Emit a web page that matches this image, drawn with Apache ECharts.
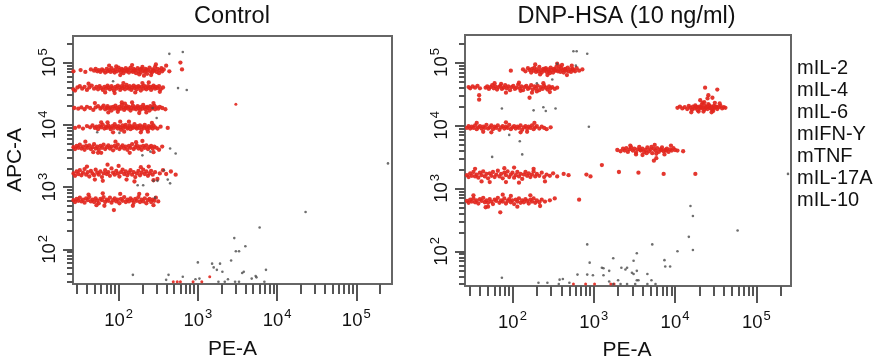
<!DOCTYPE html>
<html><head><meta charset="utf-8">
<script src="https://cdn.jsdelivr.net/npm/echarts@6/dist/echarts.min.js"></script>
<style>html,body{margin:0;padding:0;background:#fff}#c{width:880px;height:363px}</style>
</head><body><div id="c"></div>
<script>
// All point values are log10 of intensity: flat lists x0,y0,x1,y1,... (x = log10 PE-A, y = log10 APC-A)
const panelTitles = ['Control', 'DNP-HSA (10 ng/ml)'];
const cytokines = ['mIL-2', 'mIL-4', 'mIL-6', 'mIFN-Y', 'mTNF', 'mIL-17A', 'mIL-10'];
const decadeTicks = [2, 3, 4, 5];
const xTitle = 'PE-A';
const yTitle = 'APC-A';

// ---- Control ----
const ctrlIL2 = [1.43,4.86, 1.52,4.88, 1.58,4.85, 1.65,4.89, 1.69,4.87, 1.71,4.90, 1.73,4.86, 1.75,4.88, 1.77,4.85, 1.79,4.89, 1.81,4.87, 1.83,4.84, 1.85,4.90, 1.86,4.86, 1.88,4.88, 1.90,4.85, 1.91,4.91, 1.93,4.87, 1.95,4.84, 1.96,4.89, 1.98,4.86, 2.00,4.92, 2.01,4.88, 2.03,4.85, 2.04,4.90, 2.05,4.88, 2.06,4.83, 2.07,4.87, 2.09,4.91, 2.10,4.86, 2.11,4.88, 2.12,4.89, 2.13,4.84, 2.15,4.92, 2.16,4.87, 2.18,4.85, 2.19,4.90, 2.20,4.87, 2.21,4.88, 2.22,4.83, 2.24,4.91, 2.25,4.86, 2.27,4.89, 2.28,4.84, 2.29,4.90, 2.30,4.93, 2.31,4.87, 2.33,4.85, 2.34,4.90, 2.35,4.88, 2.36,4.82, 2.37,4.88, 2.39,4.92, 2.40,4.86, 2.42,4.84, 2.43,4.89, 2.44,4.87, 2.45,4.87, 2.46,4.93, 2.48,4.85, 2.49,4.90, 2.51,4.83, 2.52,4.88, 2.54,4.91, 2.55,4.86, 2.57,4.89, 2.60,4.95, 2.64,4.86, 2.80,4.89, 2.78,5.00, 1.88,4.95, 2.02,4.80, 2.17,4.96, 2.32,4.79, 2.47,4.97, 2.26,4.81, 1.97,4.94, 2.41,4.80];
const ctrlIL4 = [1.43,4.57, 1.45,4.55, 1.48,4.60, 1.51,4.62, 1.54,4.58, 1.57,4.61, 1.60,4.56, 1.63,4.60, 1.66,4.63, 1.69,4.58, 1.72,4.61, 1.74,4.57, 1.76,4.62, 1.78,4.59, 1.80,4.56, 1.82,4.61, 1.84,4.58, 1.86,4.63, 1.87,4.60, 1.89,4.57, 1.91,4.62, 1.92,4.59, 1.94,4.55, 1.96,4.61, 1.97,4.58, 1.99,4.63, 2.01,4.60, 2.02,4.56, 2.04,4.62, 2.05,4.59, 2.07,4.61, 2.08,4.57, 2.10,4.64, 2.11,4.60, 2.13,4.58, 2.14,4.62, 2.16,4.56, 2.17,4.60, 2.19,4.63, 2.20,4.59, 2.22,4.61, 2.23,4.57, 2.25,4.62, 2.26,4.60, 2.28,4.55, 2.29,4.61, 2.31,4.58, 2.32,4.63, 2.34,4.60, 2.35,4.57, 2.37,4.62, 2.38,4.59, 2.40,4.61, 2.41,4.56, 2.43,4.60, 2.44,4.63, 2.46,4.58, 2.47,4.61, 2.49,4.59, 2.51,4.62, 2.53,4.57, 2.56,4.60, 1.62,4.66, 1.83,4.52, 2.06,4.67, 2.21,4.52, 2.38,4.68, 2.52,4.53, 1.95,4.51, 2.30,4.67];
const ctrlIL6 = [1.44,4.27, 1.49,4.26, 1.53,4.28, 1.57,4.25, 1.60,4.29, 1.64,4.27, 1.68,4.24, 1.71,4.28, 1.74,4.30, 1.77,4.26, 1.79,4.28, 1.81,4.31, 1.83,4.25, 1.85,4.27, 1.86,4.30, 1.88,4.26, 1.90,4.28, 1.91,4.23, 1.93,4.29, 1.95,4.26, 1.96,4.31, 1.98,4.27, 2.00,4.25, 2.01,4.29, 2.03,4.26, 2.04,4.32, 2.06,4.28, 2.07,4.24, 2.09,4.27, 2.10,4.30, 2.12,4.26, 2.13,4.29, 2.15,4.23, 2.16,4.27, 2.18,4.31, 2.19,4.26, 2.21,4.28, 2.22,4.25, 2.24,4.30, 2.25,4.27, 2.27,4.24, 2.28,4.29, 2.30,4.26, 2.31,4.32, 2.33,4.28, 2.34,4.25, 2.36,4.29, 2.37,4.27, 2.39,4.23, 2.40,4.30, 2.42,4.26, 2.43,4.28, 2.45,4.31, 2.46,4.25, 2.48,4.28, 2.50,4.26, 2.52,4.29, 2.55,4.27, 2.59,4.25, 2.04,4.36, 1.70,4.35, 1.87,4.20, 2.08,4.34, 2.26,4.19, 2.44,4.35, 2.35,4.20, 1.99,4.21, 2.17,4.36];
const ctrlIFN = [1.45,3.95, 1.50,3.97, 1.55,3.94, 1.60,3.98, 1.64,3.96, 1.67,3.99, 1.70,3.95, 1.72,3.97, 1.74,3.93, 1.76,3.98, 1.78,3.96, 1.80,4.00, 1.82,3.94, 1.84,3.97, 1.85,3.95, 1.87,3.99, 1.89,3.96, 1.90,3.93, 1.92,3.98, 1.94,3.95, 1.95,4.01, 1.97,3.97, 1.99,3.94, 2.00,3.98, 2.02,3.96, 2.03,3.92, 2.05,3.99, 2.06,3.95, 2.08,3.97, 2.09,4.00, 2.11,3.94, 2.12,3.96, 2.14,3.99, 2.15,3.93, 2.17,3.97, 2.18,3.95, 2.20,4.01, 2.21,3.96, 2.23,3.94, 2.24,3.98, 2.26,3.95, 2.27,3.99, 2.29,3.92, 2.30,3.97, 2.32,3.95, 2.33,4.00, 2.35,3.96, 2.36,3.93, 2.38,3.98, 2.39,3.95, 2.41,3.97, 2.43,3.94, 2.44,3.99, 2.46,3.96, 2.49,3.94, 2.53,3.97, 2.62,3.95, 2.02,4.05, 1.78,4.04, 1.93,3.88, 2.13,4.05, 2.28,3.88, 2.42,4.03, 2.07,3.89, 1.86,4.04, 2.37,3.89];
const ctrlTNF = [1.43,3.64, 1.45,3.61, 1.47,3.66, 1.49,3.63, 1.51,3.68, 1.53,3.62, 1.55,3.65, 1.57,3.60, 1.59,3.66, 1.61,3.63, 1.63,3.67, 1.65,3.61, 1.67,3.64, 1.69,3.69, 1.71,3.62, 1.73,3.65, 1.75,3.60, 1.77,3.66, 1.79,3.63, 1.81,3.68, 1.83,3.61, 1.85,3.64, 1.87,3.67, 1.89,3.62, 1.91,3.65, 1.93,3.59, 1.95,3.66, 1.97,3.63, 1.99,3.68, 2.01,3.61, 2.03,3.64, 2.05,3.67, 2.07,3.62, 2.09,3.65, 2.11,3.60, 2.13,3.66, 2.15,3.63, 2.17,3.69, 2.19,3.61, 2.21,3.64, 2.23,3.67, 2.25,3.62, 2.27,3.65, 2.29,3.60, 2.31,3.66, 2.33,3.63, 2.35,3.67, 2.37,3.61, 2.39,3.64, 2.41,3.66, 2.43,3.62, 2.45,3.65, 2.48,3.63, 2.51,3.60, 2.55,3.65, 1.74,3.55, 1.58,3.73, 1.78,3.55, 1.96,3.73, 2.14,3.55, 2.30,3.74, 2.44,3.56, 1.68,3.56, 2.22,3.72];
const ctrlIL17A = [1.43,3.22, 1.45,3.18, 1.47,3.25, 1.49,3.21, 1.51,3.27, 1.53,3.19, 1.55,3.23, 1.57,3.29, 1.59,3.20, 1.61,3.24, 1.63,3.17, 1.65,3.26, 1.67,3.22, 1.69,3.19, 1.71,3.28, 1.73,3.23, 1.75,3.20, 1.77,3.25, 1.79,3.16, 1.81,3.22, 1.83,3.27, 1.85,3.21, 1.87,3.24, 1.89,3.18, 1.91,3.30, 1.93,3.23, 1.95,3.20, 1.97,3.26, 1.99,3.22, 2.01,3.17, 2.03,3.24, 2.05,3.28, 2.07,3.21, 2.09,3.25, 2.11,3.19, 2.13,3.23, 2.15,3.27, 2.17,3.20, 2.19,3.24, 2.21,3.16, 2.23,3.22, 2.25,3.26, 2.27,3.19, 2.29,3.23, 2.31,3.28, 2.33,3.21, 2.35,3.25, 2.37,3.18, 2.39,3.22, 2.41,3.26, 2.43,3.20, 2.46,3.24, 2.49,3.13, 2.52,3.22, 2.56,3.27, 2.60,3.21, 2.66,3.25, 2.72,3.20, 1.86,3.36, 2.10,3.12, 1.60,3.33, 1.80,3.10, 2.00,3.34, 2.20,3.09, 2.38,3.33, 1.70,3.12, 2.28,3.32, 2.44,3.11];
const ctrlIL10 = [1.43,2.79, 1.45,2.76, 1.47,2.81, 1.49,2.78, 1.51,2.83, 1.53,2.77, 1.55,2.80, 1.57,2.75, 1.59,2.82, 1.61,2.79, 1.63,2.84, 1.65,2.77, 1.67,2.80, 1.69,2.76, 1.71,2.82, 1.73,2.78, 1.75,2.74, 1.77,2.81, 1.79,2.79, 1.81,2.84, 1.83,2.76, 1.85,2.80, 1.87,2.78, 1.89,2.83, 1.91,2.75, 1.93,2.79, 1.95,2.82, 1.97,2.77, 1.99,2.80, 2.01,2.74, 2.03,2.81, 2.05,2.78, 2.07,2.84, 2.09,2.76, 2.11,2.80, 2.13,2.77, 2.15,2.82, 2.17,2.79, 2.19,2.75, 2.21,2.81, 2.23,2.78, 2.25,2.84, 2.27,2.76, 2.29,2.80, 2.31,2.77, 2.33,2.82, 2.35,2.74, 2.37,2.79, 2.39,2.81, 2.41,2.76, 2.43,2.80, 2.45,2.78, 2.47,2.83, 2.50,2.77, 1.94,2.63, 1.80,2.90, 1.62,2.88, 1.82,2.70, 2.02,2.89, 2.18,2.70, 2.36,2.88, 1.72,2.71, 2.26,2.89, 2.44,2.71];
const ctrlRedOther = [3.48,4.33, 2.69,1.48, 2.74,1.48, 2.78,1.48, 2.94,1.48, 3.05,1.48, 3.15,1.56];
const ctrlGray = [2.64,5.14, 2.81,5.17, 2.75,4.59, 2.86,4.56, 2.48,4.11, 2.43,4.27, 1.93,4.70, 1.73,3.88, 2.01,3.87, 2.65,3.62, 2.72,3.54, 2.30,3.51, 2.40,3.57, 2.57,3.27, 2.44,3.10, 2.49,3.10, 2.62,3.12, 2.65,3.06, 2.24,3.03, 2.31,3.03, 2.46,2.83, 5.40,3.38, 4.36,2.60, 3.78,2.35, 3.46,2.18, 3.48,1.97, 3.52,1.97, 3.60,2.05, 3.00,1.79, 3.18,1.77, 3.20,1.71, 3.28,1.77, 3.31,1.64, 3.24,1.67, 3.42,1.82, 3.56,1.62, 3.58,1.64, 3.86,1.67, 3.68,1.53, 3.73,1.57, 3.74,1.55, 2.18,1.59, 2.63,1.59, 2.60,1.51, 2.81,1.56, 2.97,1.52, 3.02,1.53, 3.26,1.48, 3.38,1.52, 3.47,1.48, 3.52,1.48, 3.84,1.48, 3.34,1.48];

// ---- DNP-HSA (10 ng/ml) ----
const dnpIL2 = [1.98,4.87, 2.13,4.89, 2.16,4.86, 2.19,4.91, 2.21,4.88, 2.23,4.84, 2.24,4.90, 2.26,4.87, 2.27,4.92, 2.29,4.85, 2.30,4.89, 2.32,4.86, 2.33,4.93, 2.35,4.88, 2.36,4.84, 2.38,4.90, 2.39,4.87, 2.41,4.91, 2.42,4.85, 2.44,4.89, 2.45,4.86, 2.47,4.92, 2.48,4.88, 2.50,4.84, 2.51,4.90, 2.53,4.87, 2.54,4.93, 2.56,4.86, 2.57,4.89, 2.59,4.85, 2.60,4.91, 2.62,4.88, 2.63,4.84, 2.65,4.90, 2.66,4.87, 2.68,4.92, 2.69,4.86, 2.71,4.89, 2.72,4.85, 2.74,4.90, 2.75,4.88, 2.77,4.86, 2.79,4.91, 2.82,4.87, 2.86,4.89, 2.46,4.83, 2.58,4.94, 2.40,4.89, 2.52,4.88, 2.64,4.89, 2.28,4.97, 2.43,4.80, 2.55,4.98, 2.67,4.80, 2.73,4.95, 2.34,4.81, 2.61,4.96];
const dnpIL4 = [1.46,4.61, 1.48,4.59, 1.51,4.62, 1.54,4.60, 1.57,4.63, 1.60,4.59, 1.67,4.60, 1.69,4.62, 1.71,4.58, 1.73,4.61, 1.75,4.64, 1.77,4.59, 1.79,4.62, 1.81,4.57, 1.83,4.61, 1.85,4.63, 1.87,4.58, 1.89,4.60, 1.91,4.64, 1.93,4.59, 1.95,4.62, 1.97,4.56, 1.99,4.61, 2.01,4.63, 2.03,4.58, 2.05,4.60, 2.07,4.65, 2.09,4.59, 2.11,4.62, 2.13,4.56, 2.15,4.61, 2.17,4.63, 2.19,4.58, 2.21,4.60, 2.23,4.64, 2.25,4.57, 2.27,4.62, 2.29,4.59, 2.31,4.63, 2.33,4.56, 2.35,4.61, 2.37,4.58, 2.39,4.63, 2.41,4.60, 2.43,4.57, 2.45,4.62, 2.47,4.59, 2.49,4.61, 2.52,4.58, 2.55,4.60, 2.21,4.44, 1.59,4.48, 1.59,4.41, 2.10,4.55, 2.30,4.54, 1.78,4.67, 1.92,4.52, 2.08,4.68, 2.24,4.52, 2.38,4.67, 2.46,4.53, 1.86,4.66];
const dnpIL6 = [4.03,4.28, 4.06,4.30, 4.09,4.27, 4.12,4.29, 4.15,4.26, 4.17,4.31, 4.19,4.28, 4.21,4.25, 4.22,4.30, 4.24,4.27, 4.25,4.32, 4.27,4.29, 4.28,4.24, 4.30,4.30, 4.31,4.27, 4.33,4.33, 4.34,4.28, 4.36,4.25, 4.37,4.31, 4.39,4.29, 4.40,4.26, 4.42,4.32, 4.43,4.28, 4.45,4.30, 4.46,4.25, 4.48,4.31, 4.49,4.28, 4.51,4.30, 4.52,4.26, 4.54,4.29, 4.56,4.31, 4.58,4.27, 4.60,4.29, 4.62,4.28, 4.35,4.22, 4.41,4.34, 4.47,4.23, 4.32,4.29, 4.38,4.28, 4.44,4.27, 4.50,4.29, 4.26,4.29, 4.37,4.60, 4.52,4.57, 4.41,4.48, 4.40,4.43, 4.31,4.40, 4.46,4.44, 4.36,4.37, 4.20,4.21, 4.34,4.36, 4.45,4.21, 4.55,4.35, 4.29,4.22, 4.49,4.36];
const dnpIFN = [1.44,3.96, 1.46,3.99, 1.48,3.95, 1.50,3.98, 1.52,3.96, 1.54,4.00, 1.56,3.94, 1.58,3.97, 1.60,3.99, 1.62,3.95, 1.64,3.98, 1.66,3.96, 1.68,4.01, 1.70,3.95, 1.72,3.97, 1.74,4.00, 1.76,3.94, 1.78,3.98, 1.80,3.96, 1.82,4.00, 1.84,3.93, 1.86,3.97, 1.88,3.99, 1.90,3.95, 1.92,3.98, 1.94,3.96, 1.96,4.01, 1.98,3.94, 2.00,3.97, 2.02,3.99, 2.04,3.95, 2.06,3.98, 2.08,3.96, 2.10,4.00, 2.12,3.93, 2.14,3.97, 2.16,3.99, 2.18,3.95, 2.20,3.98, 2.22,3.96, 2.24,4.00, 2.26,3.94, 2.28,3.97, 2.30,3.99, 2.33,3.95, 2.36,3.98, 2.39,3.96, 2.42,3.94, 2.47,3.97, 1.56,4.04, 1.74,3.89, 1.92,4.05, 2.10,3.89, 2.27,4.04, 2.18,3.90, 1.64,3.90];
const dnpTNF = [3.29,3.61, 3.33,3.59, 3.36,3.63, 3.38,3.60, 3.40,3.64, 3.42,3.58, 3.44,3.62, 3.46,3.65, 3.48,3.60, 3.50,3.63, 3.52,3.57, 3.54,3.62, 3.56,3.66, 3.58,3.60, 3.60,3.63, 3.62,3.58, 3.64,3.61, 3.66,3.65, 3.68,3.59, 3.70,3.62, 3.72,3.56, 3.74,3.63, 3.76,3.60, 3.78,3.64, 3.80,3.58, 3.82,3.62, 3.84,3.65, 3.86,3.59, 3.88,3.61, 3.90,3.63, 3.92,3.58, 3.94,3.62, 3.96,3.60, 3.98,3.64, 4.00,3.61, 4.03,3.60, 3.65,3.56, 3.71,3.66, 3.77,3.55, 3.83,3.61, 3.57,3.61, 3.89,3.60, 4.10,3.59, 3.74,3.44, 3.77,3.48, 3.45,3.68, 3.60,3.53, 3.75,3.69, 3.87,3.54, 3.95,3.68, 3.52,3.54];
const dnpIL17A = [1.44,3.21, 1.46,3.18, 1.48,3.24, 1.50,3.20, 1.52,3.26, 1.54,3.19, 1.56,3.22, 1.58,3.17, 1.60,3.25, 1.62,3.21, 1.64,3.27, 1.66,3.19, 1.68,3.23, 1.70,3.16, 1.72,3.24, 1.74,3.20, 1.76,3.26, 1.78,3.18, 1.80,3.22, 1.82,3.28, 1.84,3.19, 1.86,3.23, 1.88,3.16, 1.90,3.25, 1.92,3.21, 1.94,3.27, 1.96,3.18, 1.98,3.22, 2.00,3.25, 2.02,3.17, 2.04,3.21, 2.06,3.26, 2.08,3.19, 2.10,3.23, 2.12,3.15, 2.14,3.22, 2.16,3.26, 2.18,3.20, 2.20,3.24, 2.22,3.18, 2.24,3.22, 2.26,3.27, 2.28,3.19, 2.30,3.23, 2.33,3.20, 2.36,3.25, 2.39,3.18, 2.42,3.22, 2.46,3.20, 2.50,3.24, 2.55,3.19, 2.63,3.23, 2.69,3.21, 2.91,3.22, 2.96,3.19, 3.10,3.37, 3.31,3.26, 3.55,3.25, 3.86,3.23, 4.25,3.23, 1.92,3.10, 2.02,3.33, 1.54,3.31, 1.72,3.10, 1.90,3.32, 2.08,3.09, 2.26,3.31, 2.40,3.11, 1.62,3.11];
const dnpIL10 = [1.44,2.80, 1.46,2.77, 1.48,2.82, 1.50,2.79, 1.52,2.84, 1.54,2.78, 1.56,2.81, 1.58,2.76, 1.60,2.83, 1.62,2.80, 1.64,2.85, 1.66,2.78, 1.68,2.81, 1.70,2.77, 1.72,2.83, 1.74,2.79, 1.76,2.75, 1.78,2.82, 1.80,2.80, 1.82,2.85, 1.84,2.77, 1.86,2.81, 1.88,2.79, 1.90,2.84, 1.92,2.76, 1.94,2.80, 1.96,2.83, 1.98,2.78, 2.00,2.81, 2.02,2.75, 2.04,2.82, 2.06,2.79, 2.08,2.84, 2.10,2.77, 2.12,2.81, 2.14,2.78, 2.16,2.83, 2.18,2.80, 2.20,2.76, 2.22,2.82, 2.24,2.79, 2.26,2.84, 2.28,2.77, 2.30,2.81, 2.33,2.78, 2.36,2.82, 2.40,2.79, 2.46,2.81, 2.52,2.84, 2.82,2.82, 1.67,2.70, 1.85,2.62, 1.52,2.89, 1.70,2.71, 1.88,2.90, 2.06,2.71, 2.22,2.89, 2.34,2.72, 1.98,2.88];
const dnpRedOther = [2.75,1.48, 2.90,1.48, 3.01,1.48, 3.21,1.48, 3.25,1.48];
const dnpGray = [2.75,5.18, 2.79,5.18, 2.92,5.14, 2.55,4.98, 2.78,4.95, 2.30,4.67, 2.49,4.73, 1.87,4.27, 2.26,4.24, 2.38,4.29, 2.41,4.23, 2.53,4.27, 2.94,3.98, 1.96,3.85, 2.09,3.75, 2.12,3.54, 1.75,3.50, 5.39,3.23, 4.19,2.72, 4.22,2.56, 4.17,2.23, 4.22,2.02, 4.77,2.33, 4.03,2.00, 3.72,2.11, 3.53,1.97, 2.92,2.11, 2.95,1.82, 3.24,1.89, 3.49,1.85, 3.87,1.86, 3.88,1.76, 3.94,1.76, 3.10,1.74, 3.12,1.73, 3.19,1.69, 3.34,1.74, 3.39,1.71, 3.41,1.74, 3.53,1.69, 3.47,1.66, 3.49,1.64, 3.66,1.64, 2.80,1.63, 2.92,1.63, 2.99,1.62, 3.12,1.62, 3.30,1.54, 3.19,1.52, 3.53,1.54, 3.55,1.54, 3.71,1.54, 1.87,1.58, 2.32,1.50, 2.43,1.50, 2.58,1.55, 2.62,1.56, 2.70,1.50, 2.57,1.48, 3.24,1.48, 3.33,1.48, 3.41,1.48, 3.51,1.48, 3.66,1.48, 3.76,1.48];

const ctrlBands = [ctrlIL2, ctrlIL4, ctrlIL6, ctrlIFN, ctrlTNF, ctrlIL17A, ctrlIL10];
const dnpBands = [dnpIL2, dnpIL4, dnpIL6, dnpIFN, dnpTNF, dnpIL17A, dnpIL10];

// ---------- build ----------
const FONT = '"Liberation Sans", Arial, Helvetica, sans-serif';
const RED = '#e2261d', GRAY = '#4a4a4a', AX = '#555';
function pairs(flat) { const out = []; for (let i = 0; i + 1 < flat.length; i += 2) out.push([flat[i], flat[i + 1]]); return out; }
function concatPairs(list) { return list.reduce((a, f) => a.concat(pairs(f)), []); }

const grids = [
  { left: 73, top: 36, width: 319, height: 248 },
  { left: 465, top: 35, width: 326, height: 251 }
];
const ranges = [
  { x: [1.424, 5.451], y: [1.443, 5.427] },
  { x: [1.416, 5.427], y: [1.449, 5.437] }
];
function minorTicks(r) {
  const t = [];
  for (let d = 1; d <= 5; d++) for (let m = 2; m <= 9; m++) {
    const v = d + Math.log10(m);
    if (v >= r[0] && v <= r[1]) t.push(v);
  }
  return t;
}
const rich = {
  b: { fontSize: 18.5, fontFamily: FONT, color: '#111', lineHeight: 22, verticalAlign: 'bottom' },
  s: { fontSize: 13, fontFamily: FONT, color: '#111', lineHeight: 22, verticalAlign: 'top', padding: [0, 0, 0, 1] }
};
const fmt = v => '{b|10}{s|' + Math.round(v) + '}';

const xAxes = [], yAxes = [];
grids.forEach((g, i) => {
  const r = ranges[i];
  xAxes.push({ type: 'value', gridIndex: i, position: 'bottom', min: r.x[0], max: r.x[1], axisLine: { show: false }, splitLine: { show: false },
    axisTick: { show: true, customValues: decadeTicks, length: 17, lineStyle: { color: AX, width: 2 } },
    axisLabel: { show: true, customValues: decadeTicks, margin: 24, formatter: fmt, rich } });
  xAxes.push({ type: 'value', gridIndex: i, position: 'bottom', offset: 0, min: r.x[0], max: r.x[1], axisLine: { show: false }, splitLine: { show: false },
    axisTick: { show: true, customValues: minorTicks(r.x), length: 10, lineStyle: { color: AX, width: 2 } },
    axisLabel: { show: false } });
  yAxes.push({ type: 'value', gridIndex: i, position: 'left', min: r.y[0], max: r.y[1], axisLine: { show: false }, splitLine: { show: false },
    axisTick: { show: true, customValues: decadeTicks, length: 10, lineStyle: { color: AX, width: 2 } },
    axisLabel: { show: true, customValues: decadeTicks, rotate: 90, margin: 14, formatter: fmt, rich } });
  yAxes.push({ type: 'value', gridIndex: i, position: 'left', offset: 0, min: r.y[0], max: r.y[1], axisLine: { show: false }, splitLine: { show: false },
    axisTick: { show: true, customValues: minorTicks(r.y), length: 6, lineStyle: { color: AX, width: 2 } },
    axisLabel: { show: false } });
});

const series = [];
[ctrlBands, dnpBands].forEach((bands, i) => {
  series.push({ type: 'scatter', xAxisIndex: 2 * i, yAxisIndex: 2 * i, data: concatPairs(bands), symbolSize: 4.3,
    itemStyle: { color: RED, opacity: 0.92 }, silent: true, clip: true });
});
[ctrlRedOther, dnpRedOther].forEach((red, i) => {
  series.push({ type: 'scatter', xAxisIndex: 2 * i, yAxisIndex: 2 * i, data: pairs(red), symbolSize: 3,
    itemStyle: { color: RED, opacity: 0.9 }, silent: true, clip: true });
});
[ctrlGray, dnpGray].forEach((gr, i) => {
  series.push({ type: 'scatter', xAxisIndex: 2 * i, yAxisIndex: 2 * i, data: pairs(gr), symbolSize: 2.6,
    itemStyle: { color: GRAY }, silent: true, clip: true });
});

const txt = (text, x, y, size, extra) => Object.assign({ type: 'text', x, y, silent: true,
  style: { text, fill: '#111', font: size + 'px ' + FONT, textAlign: 'center', textVerticalAlign: 'middle', align: 'center', verticalAlign: 'middle' } }, extra || {});
const graphic = [
  txt(panelTitles[0], 232, 17, 23.5),
  txt(panelTitles[1], 626.5, 17, 23.5),
  txt(xTitle, 232.5, 349.5, 21),
  txt(xTitle, 627, 350, 21),
  txt(yTitle, 15.5, 160, 21, { rotation: Math.PI / 2 })
];
cytokines.forEach((c, k) => {
  graphic.push({ type: 'text', x: 797, y: 68 + k * 22, silent: true,
    style: { text: c, fill: '#111', font: '20px ' + FONT, textAlign: 'left', textVerticalAlign: 'middle', align: 'left', verticalAlign: 'middle' } });
});

const chart = echarts.init(document.getElementById('c'), null, { renderer: 'canvas' });
chart.setOption({
  animation: false,
  backgroundColor: '#fff',
  grid: grids.map(g => Object.assign({ show: true, borderColor: '#666', borderWidth: 2, backgroundColor: 'transparent', containLabel: false }, g)),
  xAxis: xAxes,
  yAxis: yAxes,
  series,
  graphic
});
</script></body></html>
